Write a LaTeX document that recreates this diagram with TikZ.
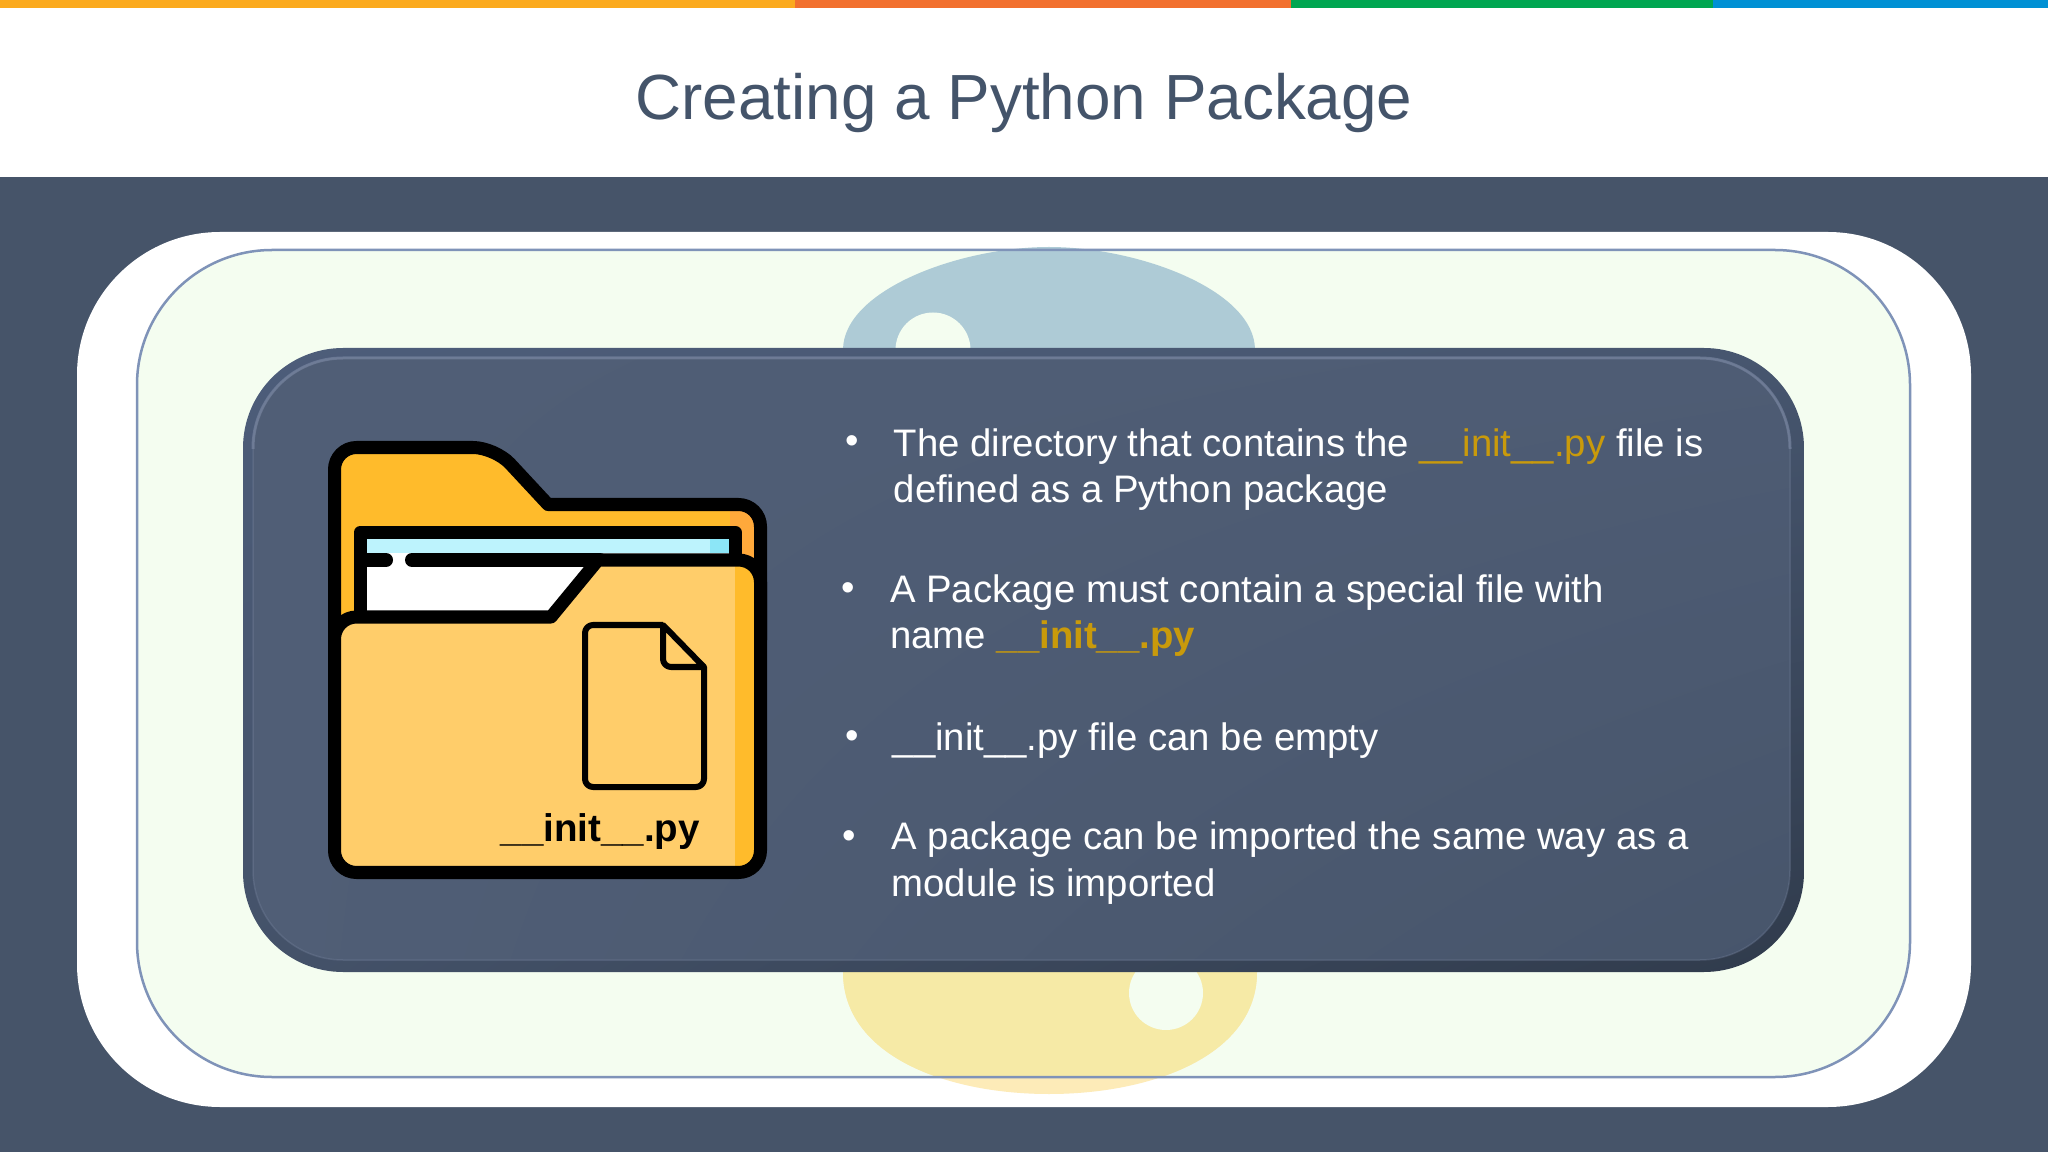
\documentclass[tikz,border=0pt]{standalone}
\usepackage{fontspec}
\usetikzlibrary{shadings}
\setmainfont{Liberation Sans}
\definecolor{slatebg}{HTML}{465469}
\definecolor{titleink}{HTML}{44546A}
\definecolor{baryellow}{HTML}{FBAA1E}
\definecolor{barorange}{HTML}{F2702E}
\definecolor{bargreen}{HTML}{00A651}
\definecolor{barblue}{HTML}{0090D4}
\definecolor{mint}{HTML}{F4FDF0}
\definecolor{mintline}{HTML}{7F93B8}
\definecolor{snakeblue}{HTML}{AECBD6}
\definecolor{snakeyellow}{HTML}{F6EAA6}
\definecolor{snakepale}{HTML}{FDEBB8}
\definecolor{panelhi}{HTML}{7C89A4}
\definecolor{edgeul}{HTML}{4D5D7A}
\definecolor{edgeur}{HTML}{47566F}
\definecolor{edgell}{HTML}{445269}
\definecolor{edgelr}{HTML}{303B4C}
\definecolor{panelul}{HTML}{505E76}
\definecolor{panelur}{HTML}{4E5C74}
\definecolor{panelll}{HTML}{505E76}
\definecolor{panellr}{HTML}{47556B}
\definecolor{initgold}{HTML}{C99A0B}
\definecolor{backyellow}{HTML}{FFBB2B}
\definecolor{backorange}{HTML}{FFA93B}
\definecolor{frontyellow}{HTML}{FFCD6A}
\definecolor{stripblue}{HTML}{BDF3FD}
\definecolor{stripdark}{HTML}{8CE6F7}
\begin{document}
\begin{tikzpicture}[x=0.01cm,y=-0.01cm,
    heading/.style = {text=titleink, font=\fontsize{18.15}{20}\selectfont},
    point/.style = {text=white, anchor=base west, align=left, inner sep=0pt, font=\fontsize{10.9}{13.15}\selectfont},
    dot/.style = {text=white, inner sep=0pt, font=\fontsize{10.9}{13.15}\selectfont},
    inked/.style = {draw=black, line width=1.3mm, line join=round}]
        \useasboundingbox (0,0) rectangle (2048,1152);
        \fill[white] (0,0) rectangle (2048,1152);
        \fill[slatebg] (0,177) rectangle (2048,1152);
        \fill[baryellow] (0,0) rectangle (795,8);
        \fill[barorange] (795,0) rectangle (1291,8);
        \fill[bargreen] (1291,0) rectangle (1713,8);
        \fill[barblue] (1713,0) rectangle (2048,8);
        \node[heading] (title) at (1024,103) {Creating a Python Package};
        %
        \fill[white, rounded corners=1.43cm] (77,232) rectangle (1971,1107);
        \fill[mint, rounded corners=1.35cm] (137,250) rectangle (1910,1077);
        \fill[snakeblue] (843,350) .. controls (843,290) and (960,247) .. (1049,247)
            .. controls (1138,247) and (1255,290) .. (1255,350) -- cycle;
        \fill[mint] (933,350) circle (37.5);
        \fill[snakepale] (843,972) .. controls (843,1055) and (945,1094) .. (1049,1094)
            .. controls (1153,1094) and (1257,1055) .. (1257,972) -- cycle;
        \begin{scope}
            \clip[rounded corners=1.35cm] (137,250) rectangle (1910,1077);
            \fill[snakeyellow] (843,972) .. controls (843,1055) and (945,1094) .. (1049,1094)
                .. controls (1153,1094) and (1257,1055) .. (1257,972) -- cycle;
        \end{scope}
        \fill[mint] (1166,993) circle (37);
        \draw[mintline, line width=0.25mm, rounded corners=1.35cm] (137,250) rectangle (1910,1077);
        %
        \shade[upper left=edgeul, upper right=edgeur, lower left=edgell, lower right=edgelr,
            rounded corners=1cm] (243,348) rectangle (1804,972);
        \shade[upper left=panelul, upper right=panelur, lower left=panelll, lower right=panellr,
            rounded corners=0.9cm] (253,358) rectangle (1790,960);
        \draw[panelhi, line width=0.15mm, opacity=0.3, rounded corners=0.9cm] (253,358) rectangle (1790,960);
        \draw[panelhi, line width=0.3mm, opacity=0.6, rounded corners=0.9cm] (253,449) -- (253,358) -- (1790,358) -- (1790,449);
        %
        \fill[backyellow, rounded corners=2.2mm] (334.5,640) -- (334.5,447.5) -- (495,447.5)
            [sharp corners] -- (548,504.5) [rounded corners=2.2mm] -- (760.5,504.5) -- (760.5,640) -- cycle;
        \fill[backorange] (730,504.5) [rounded corners=2.2mm] -- (760.5,504.5) [sharp corners] -- (760.5,600) -- (730,600) -- cycle;
        \draw[inked, rounded corners=2.2mm] (334.5,640) -- (334.5,447.5) -- (495,447.5)
            [sharp corners] -- (548,504.5) [rounded corners=2.2mm] -- (760.5,504.5) -- (760.5,640);
        %
        \fill[white] (360,532) rectangle (735.5,620);
        \fill[stripblue] (360,532) rectangle (735.5,553);
        \fill[stripdark] (710,532) rectangle (735.5,553);
        \draw[inked] (360,620) -- (360,532.5) -- (735.5,532.5) -- (735.5,620);
        \draw[black, line width=1.4mm, line cap=round] (366,560) -- (386,560);
        \draw[black, line width=1.4mm, line cap=round] (412,560) -- (600,560);
        %
        \fill[frontyellow, rounded corners=2.2mm] (334.5,872.5) -- (334.5,617) [sharp corners] -- (551,617)
            -- (598,560) [rounded corners=2.2mm] -- (760.5,560) -- (760.5,872.5) -- cycle;
        \fill[backyellow] (735,560) [rounded corners=2.2mm] -- (760.5,560) -- (760.5,872.5) [sharp corners] -- (735,872.5) -- cycle;
        \draw[inked, rounded corners=2.2mm] (334.5,872.5) -- (334.5,617) [sharp corners] -- (551,617)
            -- (598,560) [rounded corners=2.2mm] -- (760.5,560) -- (760.5,872.5) -- cycle;
        %
        \draw[black, line width=0.6mm, line join=round, rounded corners=0.8mm] (663,625) -- (585,625) -- (585,787) -- (704,787)
            [sharp corners] -- (704,667) -- (663,625) [rounded corners=0.8mm] -- (663,667) [sharp corners] -- (704,667);
        \node[anchor=base west, inner sep=0pt, font=\fontsize{10.96}{12}\selectfont\bfseries] (initname) at (500,841) {\_\_init\_\_.py};
        %
        \node[point] (first) at (893,502.5) {The directory that contains the \textcolor{initgold}{\_\_init\_\_.py} file is\\defined as a Python package};
        \node[dot] (firstdot) at (852,445) {•};
        \node[point] (second) at (889.5,649) {A Package must contain a special file with\\name \textcolor{initgold}{\bfseries\_\_init\_\_.py}};
        \node[dot] (seconddot) at (848,592) {•};
        \node[point] (third) at (892,750) {\_\_init\_\_.py file can be empty};
        \node[dot] (thirddot) at (852,740) {•};
        \node[point] (fourth) at (891,896) {A package can be imported the same way as a\\module is imported};
        \node[dot] (fourthdot) at (849,840) {•};
      \end{tikzpicture}
\end{document}
